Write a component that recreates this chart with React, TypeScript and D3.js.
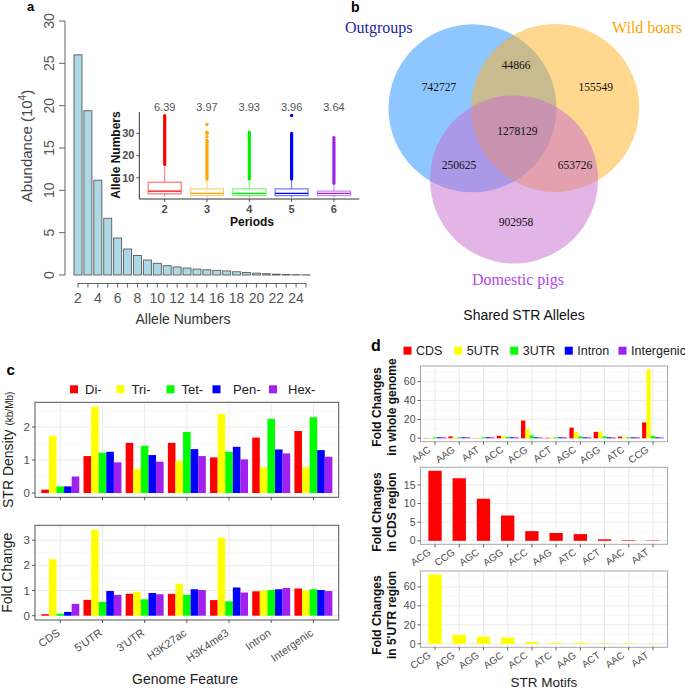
import React from 'react';
import * as d3 from 'd3';

const FONT = '"Liberation Sans", Arial, Helvetica, sans-serif';
const SERIF = '"Liberation Serif", "Times New Roman", serif';

// ---------- Panel a data ----------
const alleleNumbers = [2, 3, 4, 5, 6, 7, 8, 9, 10, 11, 12, 13, 14, 15, 16, 17, 18, 19, 20, 21, 22, 23, 24, 25];
const abundance = [26.0, 19.4, 11.2, 6.7, 4.37, 3.07, 2.3, 1.77, 1.38, 1.1, 0.95, 0.82, 0.7, 0.62, 0.55, 0.48, 0.38, 0.3, 0.22, 0.15, 0.1, 0.06, 0.04, 0.02];
const abundanceTicks = [0, 5, 10, 15, 20, 25, 30];
const alleleTickLabels = [2, 4, 6, 8, 10, 12, 14, 16, 18, 20, 22, 24];

const periods = ['2', '3', '4', '5', '6'];
const periodMeans = ['6.39', '3.97', '3.93', '3.96', '3.64'];
const periodColors = ['#FF0000', '#FFA500', '#00EE00', '#0000FF', '#A020F0'];
const whiskerLow = [1.5, 1, 1, 1, 1];
const boxQ1 = [2.8, 2, 2, 2, 2];
const boxMedian = [4, 3, 3, 3, 3];
const boxQ3 = [8, 5, 5, 5, 4];
const whiskerHigh = [15, 9, 9, 9, 7];
const outlierFrom = [16, 9.5, 9.5, 9.5, 7.5];
const outlierTo = [38, 27, 30.5, 30, 26];
const sparseOutliers = [[], [28.5, 30, 30.5, 34], [], [38], [27, 28]];
const insetTicks = [10, 20, 30];

// ---------- Panel b data ----------
const vennGroups = ['Outgroups', 'Wild boars', 'Domestic pigs'];
const vennOnly = [742727, 155549, 902958];
const vennPairs = [44866, 250625, 653726]; // O&W, O&D, W&D
const vennAll = 1278129;

// ---------- Panel c data ----------
const features = ['CDS', "5'UTR", "3'UTR", 'H3K27ac', 'H3K4me3', 'Intron', 'Intergenic'];
const repeatClasses = ['Di-', 'Tri-', 'Tet-', 'Pen-', 'Hex-'];
const classColors = ['#FF0000', '#FFFF00', '#00FF00', '#0000FF', '#A020F0'];
const densityDi = [0.1, 1.12, 1.52, 1.52, 1.08, 1.68, 1.88];
const densityTri = [1.73, 2.62, 0.73, 0.97, 2.4, 0.78, 0.78];
const densityTet = [0.2, 1.22, 1.43, 1.85, 1.25, 2.25, 2.3];
const densityPen = [0.2, 1.25, 1.15, 1.33, 1.4, 1.32, 1.3];
const densityHex = [0.5, 0.93, 0.95, 1.12, 1.02, 1.2, 1.1];
const foldDi = [0.06, 0.63, 0.87, 0.87, 0.62, 0.97, 1.08];
const foldTri = [2.25, 3.42, 0.95, 1.27, 3.1, 1.0, 1.0];
const foldTet = [0.08, 0.55, 0.65, 0.83, 0.57, 1.02, 1.05];
const foldPen = [0.15, 0.98, 0.9, 1.05, 1.12, 1.05, 1.02];
const foldHex = [0.47, 0.83, 0.85, 1.02, 0.92, 1.1, 0.98];

// ---------- Panel d data ----------
const motifs = ['AAC', 'AAG', 'AAT', 'ACC', 'ACG', 'ACT', 'AGC', 'AGG', 'ATC', 'CCG'];
const regions = ['CDS', '5UTR', '3UTR', 'Intron', 'Intergenic'];
const regionColors = ['#FF0000', '#FFFF00', '#00FF00', '#0000FF', '#A020F0'];
const wholeCDS = [0.3, 2.0, 0.2, 2.6, 18.8, 0.5, 11.3, 6.8, 1.8, 16.8];
const whole5UTR = [0.5, 1.0, 0.4, 2.0, 9.5, 0.8, 6.5, 7.2, 1.0, 73.0];
const whole3UTR = [1.0, 1.0, 1.0, 1.3, 3.0, 1.0, 2.0, 2.0, 1.0, 2.5];
const wholeIntron = [1.0, 1.0, 1.0, 1.0, 1.0, 1.0, 1.0, 1.0, 1.0, 1.0];
const wholeIntergenic = [1.0, 1.0, 1.0, 1.0, 0.8, 1.0, 1.0, 1.0, 1.0, 0.8];
const cdsMotifs = ['ACG', 'CCG', 'AGC', 'AGG', 'ACC', 'AAG', 'ATC', 'ACT', 'AAC', 'AAT'];
const cdsFold = [18.8, 16.8, 11.3, 6.8, 2.6, 2.1, 1.8, 0.4, 0.15, 0.1];
const utrMotifs = ['CCG', 'ACG', 'AGG', 'AGC', 'ACC', 'ATC', 'AAG', 'ACT', 'AAC', 'AAT'];
const utrFold = [73.0, 9.5, 7.5, 6.5, 2.0, 1.0, 1.0, 0.6, 0.6, 0.4];

// ---------- generic ggplot-like bar panel ----------
type PanelProps = {
  x0: number; x1: number; y0: number; y1: number;
  cats: string[]; series: number[][]; colors: string[];
  widthFrac: number; domain: [number, number]; ticks: number[]; minor: number[];
  border: string; yFont: number; showX: boolean; xFont?: number; xDy?: number; xDx?: number;
};

function GGPanel(p: PanelProps) {
  const x = d3.scalePoint<string>().domain(p.cats).range([p.x0, p.x1]).padding(0.6);
  const y = d3.scaleLinear().domain(p.domain).range([p.y1, p.y0]);
  const step = x.step();
  const total = step * p.widthFrac;
  const n = p.series.length;
  const bw = total / n;
  return (
    <g>
      <rect x={p.x0} y={p.y0} width={p.x1 - p.x0} height={p.y1 - p.y0} fill="#fff" />
      {p.minor.map((t) => (
        <line key={'mn' + t} x1={p.x0} x2={p.x1} y1={y(t)} y2={y(t)} stroke="#F3F3F3" strokeWidth={0.6} />
      ))}
      {p.ticks.map((t) => (
        <line key={'mj' + t} x1={p.x0} x2={p.x1} y1={y(t)} y2={y(t)} stroke="#EBEBEB" strokeWidth={1} />
      ))}
      {p.cats.map((c) => (
        <line key={'vx' + c} x1={x(c)!} x2={x(c)!} y1={p.y0} y2={p.y1} stroke="#EBEBEB" strokeWidth={1} />
      ))}
      {p.series.map((s, j) =>
        s.map((v, i) => {
          const cx = x(p.cats[i])! - total / 2 + j * bw;
          return (
            <rect key={j + '-' + i} x={cx} y={Math.min(y(v), y(0))} width={bw} height={Math.abs(y(0) - y(v))} fill={p.colors[j]} />
          );
        })
      )}
      <rect x={p.x0} y={p.y0} width={p.x1 - p.x0} height={p.y1 - p.y0} fill="none" stroke={p.border} strokeWidth={1} />
      {p.ticks.map((t) => (
        <g key={'yt' + t}>
          <line x1={p.x0 - 3} x2={p.x0} y1={y(t)} y2={y(t)} stroke="#333" strokeWidth={0.8} />
          <text x={p.x0 - 5} y={y(t)} dy="0.35em" textAnchor="end" fontSize={p.yFont} fill="#4D4D4D">{t}</text>
        </g>
      ))}
      {p.cats.map((c) => (
        <g key={'xt' + c}>
          <line x1={x(c)!} x2={x(c)!} y1={p.y1} y2={p.y1 + 3} stroke="#333" strokeWidth={0.8} />
          {p.showX && (
            <text transform={`translate(${x(c)! + (p.xDx || 0)},${p.y1 + (p.xDy || 10)}) rotate(-35)`} textAnchor="end" fontSize={p.xFont} fill="#4D4D4D">{c}</text>
          )}
        </g>
      ))}
    </g>
  );
}

// ---------- Panel a ----------
function PanelA() {
  const x = d3.scaleLinear().domain([2, 25]).range([78, 306]);
  const y = d3.scaleLinear().domain([0, 30]).range([275, 21]);
  const bw = 8;
  const ix = d3.scalePoint<string>().domain(periods).range([139.3, 359.3]).padding(0.6);
  const iy = d3.scaleLinear().domain([0.45, 39.6]).range([199, 112]);
  const boxW = ix.step() * 0.78;
  return (
    <g>
      <text x={27} y={11} fontSize={13} fontWeight="bold" fill="#000">a</text>
      {alleleNumbers.map((a, i) => (
        <rect key={a} x={x(a) - bw / 2} y={y(abundance[i])} width={bw} height={y(0) - y(abundance[i])} fill="#ADD8E6" stroke="#5A5A5A" strokeWidth={0.9} />
      ))}
      <line x1={65} x2={65} y1={y(0)} y2={y(30)} stroke="#666" strokeWidth={1} />
      {abundanceTicks.map((t) => (
        <g key={t}>
          <line x1={59} x2={65} y1={y(t)} y2={y(t)} stroke="#666" strokeWidth={1} />
          <text transform={`translate(53.5,${y(t)}) rotate(-90)`} textAnchor="middle" fontSize={14} fill="#555">{t}</text>
        </g>
      ))}
      <text transform={`translate(31.5,146) rotate(-90)`} textAnchor="middle" fontSize={15} fill="#444">
        Abundance (10<tspan dy={-6} fontSize={10}>4</tspan><tspan dy={6}>)</tspan>
      </text>
      <line x1={x(2)} x2={x(25)} y1={283.5} y2={283.5} stroke="#666" strokeWidth={1} />
      {alleleNumbers.map((a) => (
        <line key={'t' + a} x1={x(a)} x2={x(a)} y1={283.5} y2={287.5} stroke="#666" strokeWidth={1} />
      ))}
      {alleleTickLabels.map((a) => (
        <text key={'l' + a} x={x(a)} y={303} textAnchor="middle" fontSize={14} fill="#555">{a}</text>
      ))}
      <text x={183} y={324} textAnchor="middle" fontSize={14} fill="#333">Allele Numbers</text>

      {/* inset */}
      {periods.map((p, i) => {
        const cx = ix(p)!;
        const c = periodColors[i];
        return (
          <g key={p}>
            <text x={cx} y={111} textAnchor="middle" fontSize={11} fill="#555">{periodMeans[i]}</text>
            <line x1={cx} x2={cx} y1={iy(whiskerLow[i])} y2={iy(boxQ1[i])} stroke={c} strokeOpacity={0.55} strokeWidth={1} />
            <line x1={cx} x2={cx} y1={iy(boxQ3[i])} y2={iy(whiskerHigh[i])} stroke={c} strokeOpacity={0.55} strokeWidth={1} />
            <line x1={cx} x2={cx} y1={iy(outlierFrom[i])} y2={iy(outlierTo[i])} stroke={c} strokeWidth={3.2} strokeLinecap="round" />
            {sparseOutliers[i].map((v) => (
              <circle key={v} cx={cx} cy={iy(v)} r={1.7} fill={c} />
            ))}
            <rect x={cx - boxW / 2} y={iy(boxQ3[i])} width={boxW} height={iy(boxQ1[i]) - iy(boxQ3[i])} fill="#fff" fillOpacity={0.6} stroke={c} strokeOpacity={0.55} strokeWidth={1.2} />
            <line x1={cx - boxW / 2} x2={cx + boxW / 2} y1={iy(boxMedian[i])} y2={iy(boxMedian[i])} stroke={c} strokeWidth={1.3} />
            <line x1={cx} x2={cx} y1={199} y2={202} stroke="#333" strokeWidth={0.8} />
            <text x={cx} y={213} textAnchor="middle" fontSize={11} fontWeight="bold" fill="#4D4D4D">{p}</text>
          </g>
        );
      })}
      <line x1={139.3} x2={139.3} y1={112} y2={199} stroke="#333" strokeWidth={1} />
      <line x1={139.3} x2={359.3} y1={199} y2={199} stroke="#333" strokeWidth={1} />
      {insetTicks.map((t) => (
        <g key={'it' + t}>
          <line x1={136.3} x2={139.3} y1={iy(t)} y2={iy(t)} stroke="#333" strokeWidth={0.8} />
          <text x={134.5} y={iy(t)} dy="0.35em" textAnchor="end" fontSize={11} fontWeight="bold" fill="#4D4D4D">{t}</text>
        </g>
      ))}
      <text transform="translate(119.5,155) rotate(-90)" textAnchor="middle" fontSize={12} fontWeight="bold" fill="#111">Allele Numbers</text>
      <text x={252} y={226} textAnchor="middle" fontSize={12} fontWeight="bold" fill="#111">Periods</text>
    </g>
  );
}

// ---------- Panel b ----------
function PanelB() {
  const circles = [
    { cx: 472.5, cy: 108.3, fill: '#1E90FF' },
    { cx: 555.2, cy: 108.0, fill: '#FFB020' },
    { cx: 514.0, cy: 179.5, fill: '#C76BD0' },
  ];
  const r = 84;
  const fmt = (v: number) => String(v);
  const numbers = [
    { v: vennOnly[0], x: 439, y: 86.7 },
    { v: vennPairs[0], x: 516, y: 65 },
    { v: vennOnly[1], x: 595.7, y: 86.7 },
    { v: vennAll, x: 517.3, y: 131 },
    { v: vennPairs[1], x: 459, y: 165 },
    { v: vennPairs[2], x: 575, y: 165 },
    { v: vennOnly[2], x: 516, y: 221.7 },
  ];
  return (
    <g>
      <text x={351} y={11.5} fontSize={14} fontWeight="bold" fill="#000">b</text>
      {circles.map((c, i) => (
        <circle key={i} cx={c.cx} cy={c.cy} r={r} fill={c.fill} fillOpacity={0.5} />
      ))}
      {numbers.map((n, i) => (
        <text key={i} x={n.x} y={n.y} dy="0.35em" textAnchor="middle" fontFamily={SERIF} fontSize={11.5} fill="#111">{fmt(n.v)}</text>
      ))}
      <text x={345} y={33} fontFamily={SERIF} fontSize={16} fill="#1F1F9A">{vennGroups[0]}</text>
      <text x={682} y={33} textAnchor="end" fontFamily={SERIF} fontSize={16} fill="#FFA500">{vennGroups[1]}</text>
      <text x={518} y={284.5} textAnchor="middle" fontFamily={SERIF} fontSize={16} fill="#B048E8">{vennGroups[2]}</text>
      <text x={524} y={320} textAnchor="middle" fontSize={14} fill="#111">Shared STR Alleles</text>
    </g>
  );
}

// ---------- Panel c ----------
function PanelC() {
  const legendSq = [70, 116.5, 166.5, 212.5, 269];
  const legendTx = [85, 131.5, 181.5, 233, 288];
  return (
    <g>
      <text x={6.5} y={375} fontSize={15} fontWeight="bold" fill="#000">c</text>
      {repeatClasses.map((c, i) => (
        <g key={c}>
          <rect x={legendSq[i]} y={385.3} width={8} height={8} fill={classColors[i]} />
          <text x={legendTx[i]} y={389.3} dy="0.36em" fontSize={13} fill="#222">{c}</text>
        </g>
      ))}
      <GGPanel x0={35} x1={338.7} y0={402.3} y1={497.3} cats={features}
        series={[densityDi, densityTri, densityTet, densityPen, densityHex]} colors={classColors}
        widthFrac={0.9} domain={[-0.131, 2.751]} ticks={[0, 1, 2]} minor={[0.5, 1.5, 2.5]}
        border="#555" yFont={11.5} showX={false} />
      <text transform="translate(13,449.8) rotate(-90)" textAnchor="middle" fontSize={14} fill="#222">
        STR Density <tspan fontSize={10}>(kb/Mb)</tspan>
      </text>
      <GGPanel x0={35} x1={338.7} y0={525.3} y1={620} cats={features}
        series={[foldDi, foldTri, foldTet, foldPen, foldHex]} colors={classColors}
        widthFrac={0.9} domain={[-0.171, 3.591]} ticks={[0, 1, 2, 3]} minor={[0.5, 1.5, 2.5, 3.5]}
        border="#555" yFont={11.5} showX={true} xFont={11} xDy={14.5} xDx={0.5} />
      <text transform="translate(12,572.7) rotate(-90)" textAnchor="middle" fontSize={14} fill="#222">Fold Change</text>
      <text x={185} y={684} textAnchor="middle" fontSize={14} fill="#222">Genome Feature</text>
    </g>
  );
}

// ---------- Panel d ----------
function PanelD() {
  const legendTx = [416, 466.7, 522.7, 577.3, 631];
  return (
    <g>
      <text x={371} y={350.5} fontSize={16} fontWeight="bold" fill="#000">d</text>
      {regions.map((r, i) => (
        <g key={r}>
          <rect x={legendTx[i] - 12.5} y={346.7} width={8} height={8} fill={regionColors[i]} />
          <text x={legendTx[i]} y={350.7} dy="0.36em" fontSize={12.5} fill="#222">{r}</text>
        </g>
      ))}
      <GGPanel x0={420.5} x1={667.5} y0={366} y1={441.7} cats={motifs}
        series={[wholeCDS, whole5UTR, whole3UTR, wholeIntron, wholeIntergenic]} colors={regionColors}
        widthFrac={0.9} domain={[-3.65, 76.65]} ticks={[0, 20, 40, 60]} minor={[10, 30, 50, 70]}
        border="#A8A8A8" yFont={10.5} showX={true} xFont={10} xDy={9.5} xDx={-3.5} />
      <text transform="translate(381,407) rotate(-90)" textAnchor="middle" fontSize={12} fontWeight="bold" fill="#111">Fold Changes</text>
      <text transform="translate(395.5,407) rotate(-90)" textAnchor="middle" fontSize={12} fontWeight="bold" fill="#111">in whole genome</text>

      <GGPanel x0={420.5} x1={667.5} y0={467.3} y1={544.3} cats={cdsMotifs}
        series={[cdsFold]} colors={['#FF0000']}
        widthFrac={0.55} domain={[-0.94, 19.74]} ticks={[0, 5, 10, 15]} minor={[2.5, 7.5, 12.5, 17.5]}
        border="#A8A8A8" yFont={10.5} showX={true} xFont={10} xDy={9.5} xDx={-3.5} />
      <text transform="translate(381,512) rotate(-90)" textAnchor="middle" fontSize={12} fontWeight="bold" fill="#111">Fold Changes</text>
      <text transform="translate(395.5,512) rotate(-90)" textAnchor="middle" fontSize={12} fontWeight="bold" fill="#111">in CDS region</text>

      <GGPanel x0={420.5} x1={667.5} y0={571} y1={647.3} cats={utrMotifs}
        series={[utrFold]} colors={['#FFFF00']}
        widthFrac={0.55} domain={[-3.65, 76.65]} ticks={[0, 20, 40, 60]} minor={[10, 30, 50, 70]}
        border="#A8A8A8" yFont={10.5} showX={true} xFont={10} xDy={9.5} xDx={-3.5} />
      <text transform="translate(381,615) rotate(-90)" textAnchor="middle" fontSize={12} fontWeight="bold" fill="#111">Fold Changes</text>
      <text transform="translate(395.5,615) rotate(-90)" textAnchor="middle" fontSize={12} fontWeight="bold" fill="#111">in 5'UTR region</text>
      <text x={544} y={686.5} textAnchor="middle" fontSize={13.5} fill="#222">STR Motifs</text>
    </g>
  );
}

export default function App() {
  return (
    <svg width={685} height={690} style={{ position: 'absolute', left: 0, top: 0, background: '#fff' }} fontFamily={FONT}>
      <rect x={0} y={0} width={685} height={690} fill="#fff" />
      <PanelA />
      <PanelB />
      <PanelC />
      <PanelD />
    </svg>
  );
}
